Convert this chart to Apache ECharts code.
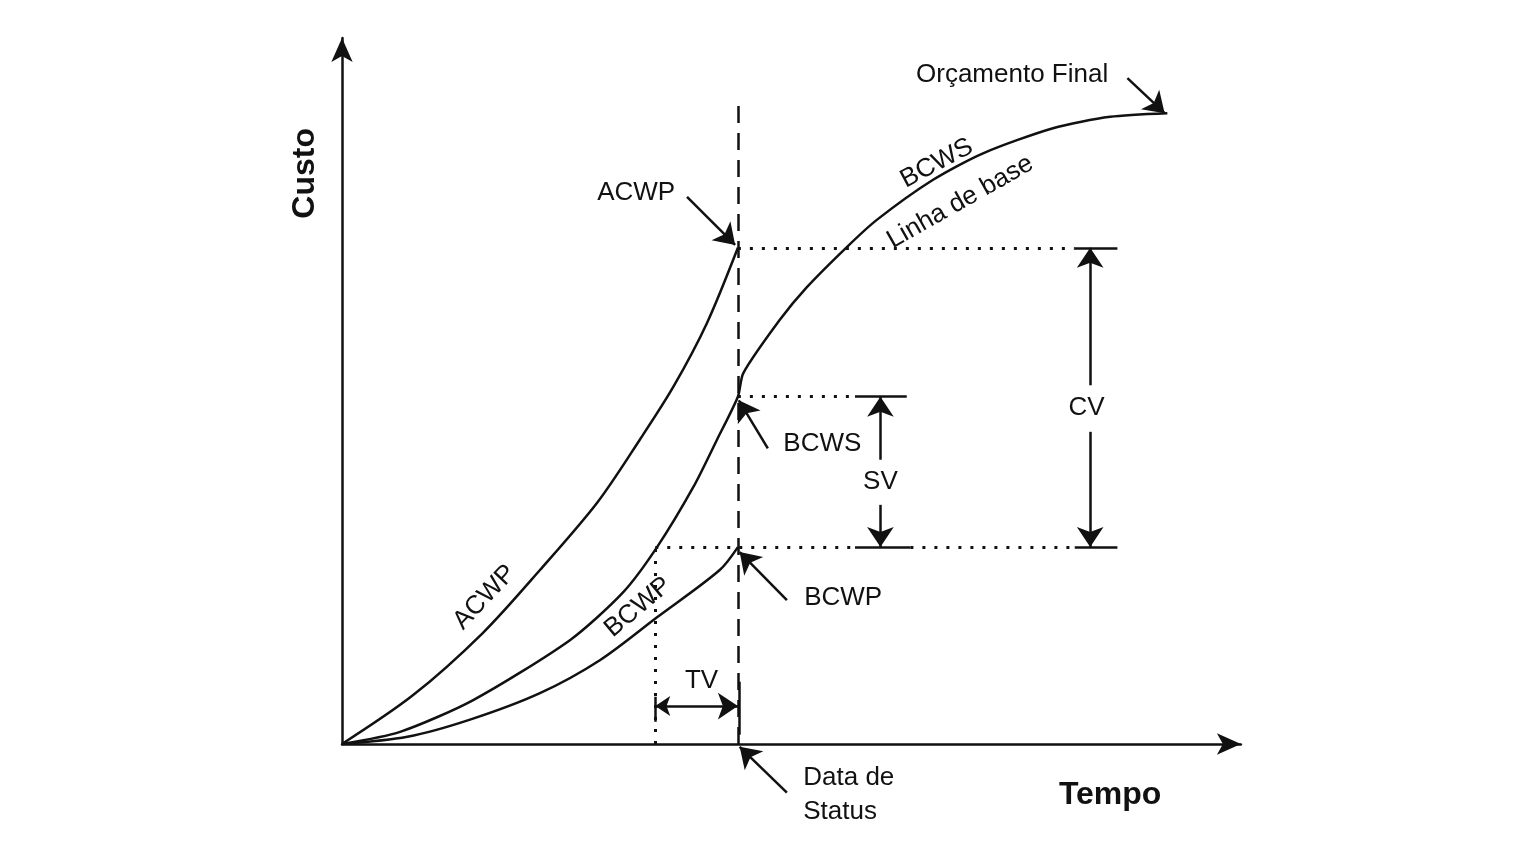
<!DOCTYPE html>
<html><head><meta charset="utf-8">
<script src="https://cdn.jsdelivr.net/npm/echarts@6/dist/echarts.min.js"></script>
<style>html,body{margin:0;background:#fff}#c{width:1532px;height:843px}</style>
</head><body><div id="c"></div>
<script>
// Curves (time, cost) (time axis ends at 99, cost axis at 98.6)
const acwp = [[0,0],[7.8,6.8],[15.5,15.5],[21.8,24.3],[28.1,33.7],[32.8,42.5],[36.5,49.9],[40.2,58.8],[43.6,69.3]];
const bcws = [[0,0],[6.4,1.7],[14.4,6.1],[25.1,14.5],[30.9,21.1],[34.7,27.5],[38.7,35.9],[41.3,42.5],[43.6,48.5],[44.2,51.8],[48.2,59.2],[51.2,63.8],[55.6,69.4],[58.9,73.2],[65.1,78.8],[70.6,82.5],[78.3,86.0],[84.6,87.6],[90.9,88.1]];
const bcwp = [[0,0],[7.2,1.0],[14.1,3.4],[21.8,7.1],[28.4,11.7],[34.7,17.7],[41.6,24.3],[43.6,27.5]];
const statusDate = 43.6, tvStart = 34.5;
const acwpNow = 69.3, bcwsNow = 48.5, bcwpNow = 27.5;
const finalBudget = [90.9, 88.1];
const timeMax = 99, costMax = 98.6;

const INK = '#111';
const dotted = {color: INK, width: 3, type: [3, 9], cap: 'butt', opacity: 1};
const dashed = {color: INK, width: 2.5, type: [17, 10], cap: 'butt', opacity: 1};
const solid = {color: INK, width: 2.5, type: 'solid', opacity: 1};
const seg = (a, b, style, sym, size) => ({coords: [a, b], lineStyle: style, symbol: sym || ['none','none'], symbolSize: size || 14});
const arrowEnd = ['none', 'arrow'];
const AH = [15, 20];

const segments = [
  seg([statusDate, 0], [statusDate, 90.4], dashed),
  seg([statusDate, acwpNow], [80.7, acwpNow], dotted),
  seg([80.7, acwpNow], [85.4, acwpNow], solid),
  seg([statusDate, bcwsNow], [56.5, bcwsNow], dotted),
  seg([56.5, bcwsNow], [62.2, bcwsNow], solid),
  seg([tvStart, bcwpNow], [56.5, bcwpNow], dotted),
  seg([56.5, bcwpNow], [62.6, bcwpNow], solid),
  seg([62.6, bcwpNow], [80.7, bcwpNow], dotted),
  seg([80.7, bcwpNow], [85.4, bcwpNow], solid),
  seg([tvStart, 0], [tvStart, bcwpNow], dotted),
  // CV
  seg([82.4, 50.1], [82.4, acwpNow], solid, arrowEnd, AH),
  seg([82.4, 43.6], [82.4, bcwpNow], solid, arrowEnd, AH),
  // SV
  seg([59.3, 39.7], [59.3, bcwsNow], solid, arrowEnd, AH),
  seg([59.3, 33.4], [59.3, bcwpNow], solid, arrowEnd, AH),
  // TV
  seg([tvStart, 5.3], [statusDate, 5.3], solid, ['arrow','arrow'], AH),
  seg([tvStart, 3.1], [tvStart, 6.6], solid),
  seg([statusDate + 0.2, 1.3], [statusDate + 0.2, 8.7], solid),
  // pointers
  seg([38.0, 76.4], [43.3, 69.7], solid, arrowEnd, AH),
  seg([46.9, 41.3], [43.7, 48.0], solid, arrowEnd, AH),
  seg([49.0, 20.1], [43.8, 26.8], solid, arrowEnd, AH),
  seg([49.0, -6.8], [43.8, -0.4], solid, arrowEnd, AH),
  seg([86.5, 93.0], [finalBudget[0] - 0.3, finalBudget[1]], solid, arrowEnd, AH)
];

const FONT = '"Liberation Sans", Arial, sans-serif';
const texts = [
  {t: 'ACWP', at: [32.4, 77.0], r: 0},
  {t: 'BCWS', at: [52.9, 41.9], r: 0},
  {t: 'BCWP', at: [55.2, 20.4], r: 0},
  {t: 'Orçamento Final', at: [73.8, 93.4], r: 0},
  {t: 'CV', at: [82.0, 46.9], r: 0},
  {t: 'SV', at: [59.3, 36.6], r: 0},
  {t: 'TV', at: [39.6, 8.8], r: 0},
  {t: 'BCWS', at: [65.5, 81.1], r: 28},
  {t: 'Linha de base', at: [68.1, 75.7], r: 29.5},
  {t: 'ACWP', at: [15.7, 20.5], r: 46.5},
  {t: 'BCWP', at: [32.6, 19.1], r: 40},
  {t: 'Data de\nStatus', at: [50.8, -7.1], r: 0, align: 'left', lh: 34},
  {t: 'Custo', at: [-4.07, 79.7], r: 90, bold: true},
  {t: 'Tempo', at: [84.6, -7.1], r: 0, bold: true}
];

const chart = echarts.init(document.getElementById('c'), null, {renderer: 'canvas'});
const axisCommon = {
  type: 'value', min: 0,
  axisLine: {show: true, onZero: true, symbol: ['none', 'arrow'], symbolSize: [16, 24], lineStyle: {color: INK, width: 2.5}},
  axisTick: {show: false}, axisLabel: {show: false}, splitLine: {show: false}
};
const curveStyle = {color: INK, width: 2.5};
chart.setOption({
  backgroundColor: '#fff',
  animation: false,
  grid: {left: 342, top: 38, right: 291.1, bottom: 99},
  xAxis: Object.assign({}, axisCommon, {max: timeMax}),
  yAxis: Object.assign({}, axisCommon, {max: costMax}),
  series: [
    {type: 'line', data: acwp, smooth: 0.3, symbol: 'none', lineStyle: curveStyle, z: 3},
    {type: 'line', data: bcws, smooth: 0.25, symbol: 'none', lineStyle: curveStyle, z: 3},
    {type: 'line', data: bcwp, smooth: 0.3, symbol: 'none', lineStyle: curveStyle, z: 3},
    {type: 'lines', coordinateSystem: 'cartesian2d', clip: false, data: segments, z: 4,
     lineStyle: {color: INK, width: 2.5, opacity: 1}, itemStyle: {color: INK, opacity: 1}}
  ]
});

const graphics = texts.map(d => {
  const p = chart.convertToPixel({gridIndex: 0}, d.at);
  return {
    type: 'text', x: p[0], y: p[1], rotation: d.r * Math.PI / 180, z: 10,
    style: {
      text: d.t, fill: INK,
      font: (d.bold ? 'bold 32px ' : '26px ') + FONT,
      align: d.align || 'center', verticalAlign: 'middle',
      textAlign: d.align || 'center', textVerticalAlign: 'middle',
      lineHeight: d.lh || 30
    }
  };
});
chart.setOption({graphic: graphics});
</script>
</body></html>
